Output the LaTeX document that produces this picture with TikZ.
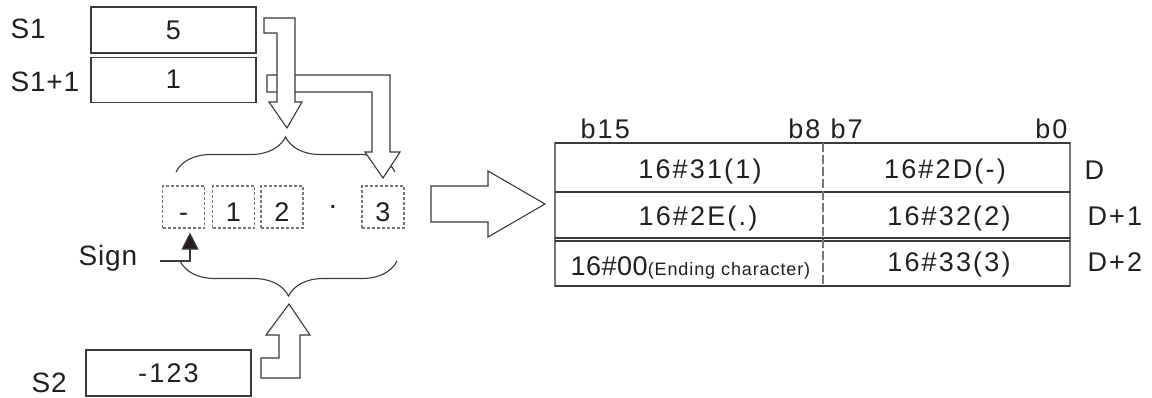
\documentclass[tikz,border=0pt]{standalone}
\usepackage{fontspec}
\setmainfont{Liberation Sans}[LetterSpace=8]
\usepackage{tikz}
\usetikzlibrary{arrows.meta,positioning,calc,decorations.pathreplacing}
\definecolor{cInk}{HTML}{231F20}
\definecolor{cLine}{HTML}{3A3A3A}
\definecolor{cGrid}{HTML}{777777}
\newcommand{\regfont}{\fontsize{14}{16}\selectfont\addfontfeature{LetterSpace=3}}

\begin{document}
\begin{tikzpicture}[x=0.5pt, y=-0.5pt, font=\fontsize{13.5}{16}\selectfont, text=cInk, line width=0.55pt,
  word/.style={draw=cLine, fill=white, minimum width=82.5pt, minimum height=23pt, inner sep=0pt},
  digit/.style={draw=cGrid, dash pattern=on 1.5pt off 1pt, minimum width=21pt, text height=17.5pt, text depth=3.5pt, inner sep=0pt},
  lab/.style={anchor=base west, inner sep=0pt},
  cell/.style={anchor=base, inner sep=0pt},
  hollow/.style={draw=cLine, fill=white, line join=miter},
  curly/.style={draw=cLine, decorate, decoration={brace, amplitude=17.5pt, #1}},
  curly/.default={}]
  \path[use as bounding box, fill=white] (0,0) rectangle (1152,397);
  % source registers
  \node[word] (s1) at (173.5,30) {5};
  \node[word, minimum height=22.5pt, below=1.5pt of s1] (s1n) {1};
  \node[word] (s2) at (168.5,373) {-123};
  \node[lab, font=\regfont] (s1lab) at (10,38) {S1};
  \node[lab, font=\regfont] (s1nlab) at (10,91) {S1+1};
  \node[lab, font=\regfont] (s2lab) at (31,392) {S2};
  \node[lab, font=\regfont] (signlab) at (78,265) {Sign};
  % ascii string
  \node[digit] (dm) at (183.5,207) {-};
  \node[digit] (d1) at (233.5,207) {1};
  \node[digit] (d2) at (282,207) {2};
  \node[cell, font=\bfseries] (dp) at (333,208) {.};
  \node[digit] (d3) at (383,207) {3};
  \draw[curly] (176,172) -- (395,172);
  \draw[curly=mirror] (180,261) -- (397,261);
  \coordinate (signin) at (160,261);
  \draw[cLine, -{Triangle[length=8.5pt, width=8.5pt, fill=cInk]}] (signin) -| ([xshift=3.25pt, yshift=-2pt]dm.south);
  % hollow arrows
  \draw[hollow] (267,75) -- (390,75) -- (390,152) -- (400,152) -- (383,178) -- (365,152) -- (372,152) -- (372,92) -- (267,92) -- cycle;
  \draw[hollow] (264,18) -- (295,18) -- (295,102) -- (302,102) -- (287,128) -- (269,102) -- (277,102) -- (277,33) -- (264,33) -- cycle;
  \draw[hollow] (261,358) -- (279,358) -- (279,335) -- (266,335) -- (289,304) -- (310,335) -- (300,335) -- (300,378) -- (261,378) -- cycle;
  \draw[hollow] (431,186) -- (488,186) -- (488,171) -- (545,204) -- (488,237) -- (488,222) -- (431,222) -- cycle;
  % result words
  \draw[cGrid] (555,143) rectangle (1070,286);
  \draw[cLine] (555,143) -- (1070,143) (555,192) -- (1070,192) (555,238) -- (1070,238)
    (555,241) -- (1070,241) (555,286) -- (1070,286);
  \draw[cGrid, dash pattern=on 4.5pt off 1.5pt] (823,143) -- (823,286);
  \node[cell] (hi1) at (700,178) {16\#31(1)};
  \node[cell] (lo1) at (945,178) {16\#2D(-)};
  \node[cell] (hi2) at (698,225) {16\#2E(.)};
  \node[cell] (lo2) at (949,225) {16\#32(2)};
  \node[lab] (hi3) at (570,275) {{\fontsize{13.5}{16}\selectfont\addfontfeature{LetterSpace=2}16\#00}{\fontsize{9}{10}\selectfont\addfontfeature{LetterSpace=5}(Ending character)}};
  \node[cell] (lo3) at (949,271) {16\#33(3)};
  \node[lab] (b15) at (580,138) {b15};
  \node[lab, anchor=base east] (b8) at (821,138) {b8};
  \node[lab] (b7) at (830,138) {b7};
  \node[lab, anchor=base east] (b0) at (1068,138) {b0};
  \node[lab] (dw0) at (1084,179) {D};
  \node[lab] (dw1) at (1087,225) {D+1};
  \node[lab] (dw2) at (1087,271) {D+2};
\end{tikzpicture}
\end{document}
